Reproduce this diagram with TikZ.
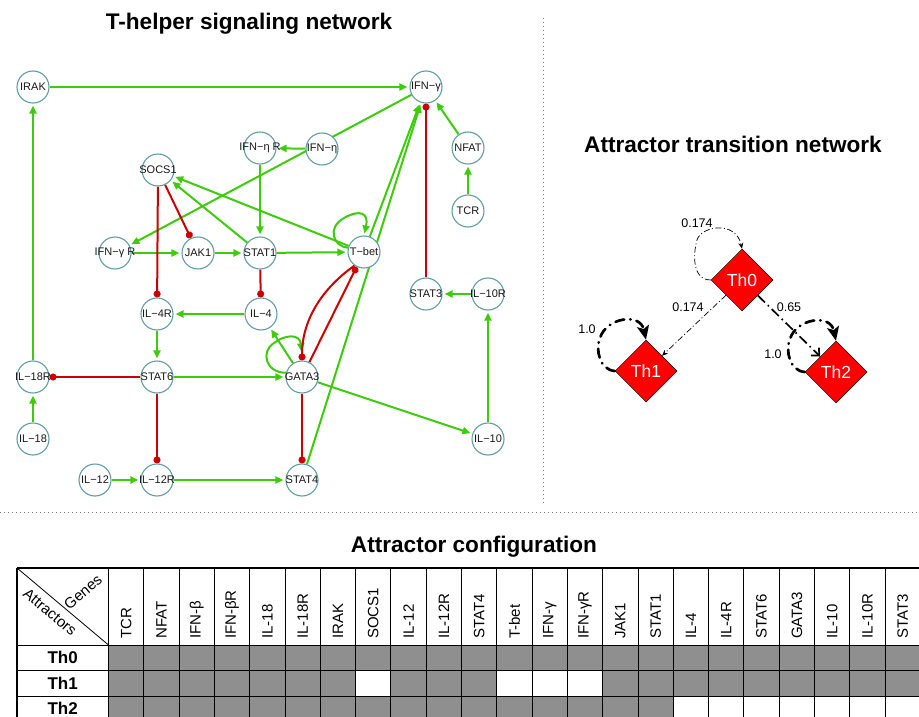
\documentclass[tikz,border=0pt]{standalone}
\usepackage{fontspec}
\setmainfont{Liberation Sans}
\usetikzlibrary{arrows.meta,shapes.geometric}
\pgfdeclarelayer{edges}
\pgfsetlayers{edges,main}

\definecolor{actgreen}{RGB}{60,204,10}
\definecolor{inhred}{RGB}{204,0,0}
\definecolor{genering}{RGB}{96,158,162}
\definecolor{cellgray}{RGB}{143,143,143}
\definecolor{sepgray}{RGB}{120,120,120}

\tikzset{
	ttl/.style={font=\bfseries\fontsize{22.6}{26}\selectfont, inner sep=0pt},
	gene/.style={circle, draw=genering, line width=1.1pt, fill=white, minimum size=32pt, inner sep=0pt, label={[genetext]center:#1}},
	genetext/.style={font=\fontsize{11}{12}\selectfont, text=black!90, inner sep=0pt},
	act/.style={draw=actgreen, line width=2pt, shorten >=2pt, -{Triangle[length=8pt,width=7pt]}},
	inh/.style={draw=inhred, line width=2pt, -{Circle[length=7pt]}},
	attr/.style={diamond, draw=black, line width=0.5pt, fill=red, minimum size=62pt, inner sep=0pt, text=white, font=\fontsize{17.5}{20}\selectfont},
	wlab/.style={font=\fontsize{12.5}{14}\selectfont, inner sep=0pt},
	thinflow/.style={line width=0.7pt, dash pattern=on 6pt off 2.5pt on 1pt off 2.5pt, -{Stealth[length=6pt,width=5pt]}},
	midflow/.style={line width=1.7pt, dash pattern=on 10pt off 4pt on 1.5pt off 4pt, -{Straight Barb[length=6pt,width=11pt,line width=1.7pt]}},
	stayflow/.style={line width=2.7pt, line cap=round, dash pattern=on 9pt off 6pt on 0.5pt off 6pt, -{Stealth[length=14pt,width=12pt,inset=3pt]}},
	colhead/.style={rotate=90, anchor=west, inner sep=0pt, font=\fontsize{15}{17}\selectfont},
	rowhead/.style={font=\bfseries\fontsize{17}{19}\selectfont, inner sep=0pt},
	cornertext/.style={font=\fontsize{15}{17}\selectfont, inner sep=0pt},
	divider/.style={draw=sepgray, line width=1pt, dash pattern=on 1pt off 3pt}
}

\begin{document}
\begin{tikzpicture}[x=1pt, y=-1pt]
	%%%%% START %%%%%
	\useasboundingbox (0,0) rectangle (919,717);

	\node[ttl] (ttlnet) at (249,24) {T-helper signaling network};
	\node[ttl] (ttlatt) at (733,144) {Attractor transition network};
	\node[ttl] (ttltab) at (474,547) {Attractor configuration};

	\draw[divider] (543,18) -- (543,505);
	\draw[divider] (0,512) -- (919,512);

	%%%%% SIGNALING NETWORK %%%%%
	\node[gene=IRAK] (irak) at (33,87) {};
	\node[gene=IFN−γ] (ifng) at (426,87) {};
	\node[gene=IFN−η R] (ifnbr) at (260,148) {};
	\node[gene=IFN−η] (ifnb) at (322,149) {};
	\node[gene=NFAT] (nfat) at (468,148) {};
	\node[gene=SOCS1] (socs1) at (158,170) {};
	\node[gene=TCR] (tcr) at (468,211) {};
	\node[gene=IFN−γ R] (ifngr) at (115,253) {};
	\node[gene=JAK1] (jak1) at (198,253) {};
	\node[gene=STAT1] (stat1) at (260,253) {};
	\node[gene=T−bet] (tbet) at (364,252) {};
	\node[gene=STAT3] (stat3) at (426,294) {};
	\node[gene=IL−10R] (il10r) at (488,294) {};
	\node[gene=IL−4R] (il4r) at (157,314) {};
	\node[gene=IL−4] (il4) at (261,314) {};
	\node[gene=IL−18R] (il18r) at (33,377) {};
	\node[gene=STAT6] (stat6) at (157,377) {};
	\node[gene=GATA3] (gata3) at (302,377) {};
	\node[gene=IL−18] (il18) at (33,439) {};
	\node[gene=IL−10] (il10) at (488,439) {};
	\node[gene=IL−12] (il12) at (95,480) {};
	\node[gene=IL−12R] (il12r) at (157,480) {};
	\node[gene=STAT4] (stat4) at (302,480) {};

	\begin{pgfonlayer}{edges}
		\draw[act] (irak) -- (ifng);
		\draw[act] (il18r) -- (irak);
		\draw[act] (il18) -- (il18r);
		\draw[act] (ifnb) -- (ifnbr);
		\draw[act] (ifng) -- (ifngr);
		\draw[act] (ifnbr) -- (stat1);
		\draw[act] (ifngr) -- (jak1);
		\draw[act] (jak1) -- (stat1);
		\draw[act] (stat1) -- (tbet);
		\draw[act] (stat1) -- (socs1);
		\draw[act] (tbet) -- (socs1);
		\draw[act] (tbet.165) .. controls (334,247) and (326,228) .. (344,218) .. controls (360,209) and (369,213) .. (tbet.north);
		\draw[act] (tbet) -- (ifng);
		\draw[act] (stat4) -- (ifng);
		\draw[act] (nfat) -- (ifng);
		\draw[act] (tcr) -- (nfat);
		\draw[act] (il4) -- (il4r);
		\draw[act] (il4r) -- (stat6);
		\draw[act] (stat6) -- (gata3);
		\draw[act] (gata3) -- (il4);
		\draw[act, shorten >=9pt] (gata3.165) .. controls (266,373) and (260,352) .. (274,343) .. controls (284,335) and (300,333) .. (gata3.north);
		\draw[act] (gata3) -- (il10);
		\draw[act] (il10) -- (il10r);
		\draw[act] (il10r) -- (stat3);
		\draw[act] (il12) -- (il12r);
		\draw[act] (il12r) -- (stat4);

		\draw[inh] (stat3) -- (ifng);
		\draw[inh] (socs1) -- (jak1);
		\draw[inh] (socs1) -- (il4r);
		\draw[inh] (stat1) -- (il4);
		\draw[inh] (stat6) -- (il18r);
		\draw[inh] (stat6) -- (il12r);
		\draw[inh] (gata3) -- (stat4);
		\draw[inh] (gata3) -- (tbet);
		\draw[inh] (tbet.235) .. controls (320,290) and (302,322) .. (gata3.north);
	\end{pgfonlayer}

	%%%%% ATTRACTOR TRANSITIONS %%%%%
	\node[attr] (th0) at (742,280) {Th0};
	\node[attr] (th1) at (646,371) {Th1};
	\node[attr] (th2) at (836,372) {Th2};

	\draw[thinflow] (th0.west) .. controls (692,280) and (693,254) .. (697,240) .. controls (701,226) and (736,220) .. (th0.north);
	\draw[thinflow] (th0) -- (th1);
	\draw[midflow] (th0) -- (th2);
	\draw[stayflow] (th1.west) .. controls (600,370) and (595,350) .. (600,338) .. controls (606,318) and (640,312) .. (th1.north);
	\draw[stayflow] (th2.west) .. controls (790,371) and (785,351) .. (790,339) .. controls (796,319) and (830,313) .. (th2.north);

	\node[wlab] (w00) at (697,223) {0.174};
	\node[wlab] (w01) at (688,307) {0.174};
	\node[wlab] (w02) at (789,307) {0.65};
	\node[wlab] (w11) at (587,329) {1.0};
	\node[wlab] (w22) at (773,354) {1.0};

	%%%%% CONFIGURATION TABLE %%%%%
	\fill[cellgray] (108.5,645) rectangle (920.4,717);
	\fill[white] (355.6,670.5) rectangle (390.9,696);
	\fill[white] (496.8,670.5) rectangle (602.7,696);
	\fill[white] (673.3,696) rectangle (920.4,717);

	\foreach \k in {0,...,23}
		\draw[line width=1pt] ({108.5+35.3*\k},568) -- ({108.5+35.3*\k},717);
	\foreach \r in {568,645,670.5,696}
		\draw[line width=1pt] (17,\r) -- (920.4,\r);
	\draw[line width=1.4pt] (17,568) -- (17,717);
	\draw[line width=1.4pt] (17,568) -- (920.4,568);
	\draw[line width=0.8pt] (17,568) -- (108.5,645);

	\node[cornertext, rotate=-40] (attrs) at (50,612) {Attractors};
	\node[cornertext, rotate=40] (genes) at (83,592) {Genes};

	\foreach \g [count=\k] in {TCR,NFAT,IFN-β,IFN-βR,IL-18,IL-18R,IRAK,SOCS1,IL-12,IL-12R,STAT4,T-bet,IFN-γ,IFN-γR,JAK1,STAT1,IL-4,IL-4R,STAT6,GATA3,IL-10,IL-10R,STAT3}
		\node[colhead] (col\k) at ({108.5+35.3*(\k-0.5)},639) {\g};

	\node[rowhead] (row0) at (62.7,657.7) {Th0};
	\node[rowhead] (row1) at (62.7,683.2) {Th1};
	\node[rowhead] (row2) at (62.7,708.6) {Th2};

	%%%%% END %%%%%
\end{tikzpicture}
\end{document}
